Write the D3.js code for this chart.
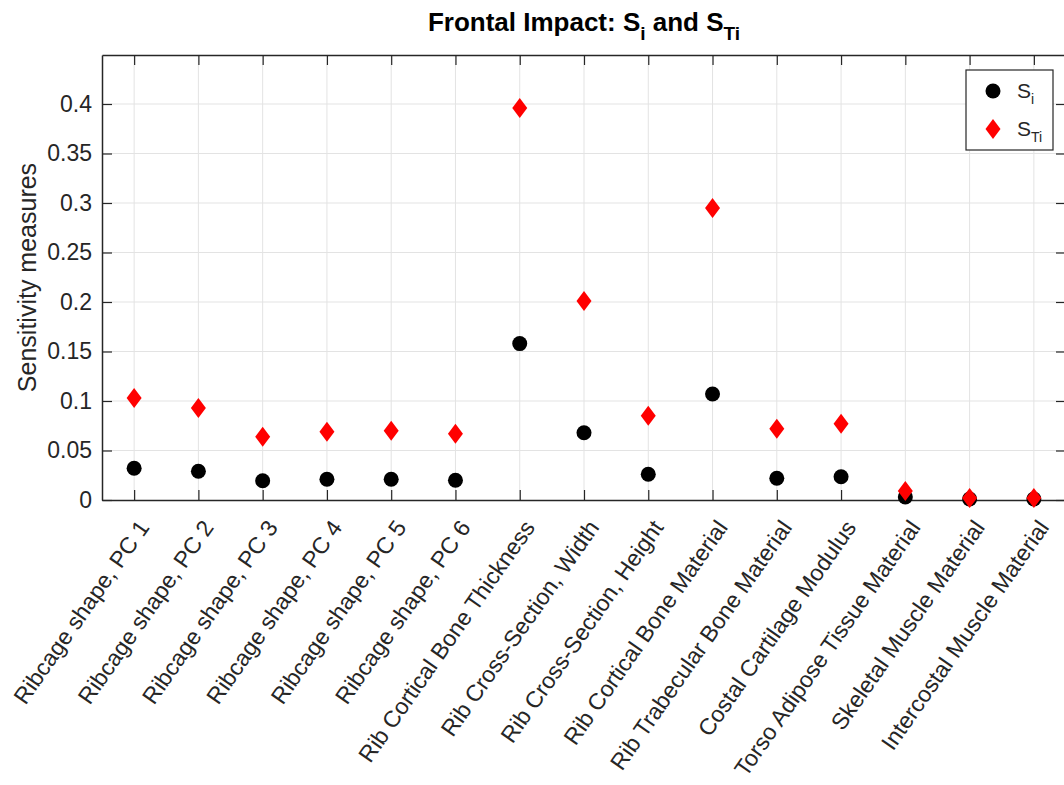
<!DOCTYPE html>
<html>
<head>
<meta charset="utf-8">
<script src="https://cdn.jsdelivr.net/npm/d3@7"></script>
<style>
  body { margin: 0; background: #fff; }
  svg { display: block; font-family: "Liberation Sans", Arial, sans-serif; }
</style>
</head>
<body>
<svg id="chart" width="1064" height="785"></svg>
<script>
const categories = [
  "Ribcage shape, PC 1", "Ribcage shape, PC 2", "Ribcage shape, PC 3",
  "Ribcage shape, PC 4", "Ribcage shape, PC 5", "Ribcage shape, PC 6",
  "Rib Cortical Bone Thickness", "Rib Cross-Section, Width", "Rib Cross-Section, Height",
  "Rib Cortical Bone Material", "Rib Trabecular Bone Material", "Costal Cartilage Modulus",
  "Torso Adipose Tissue Material", "Skeletal Muscle Material", "Intercostal Muscle Material"
];
const firstOrder = [0.032, 0.029, 0.0195, 0.021, 0.021, 0.020, 0.158, 0.068, 0.026, 0.107, 0.022, 0.0235, 0.003, 0.001, 0.001];
const totalOrder = [0.103, 0.093, 0.064, 0.069, 0.070, 0.067, 0.396, 0.201, 0.085, 0.295, 0.072, 0.077, 0.009, 0.002, 0.002];
const yTicks = [0, 0.05, 0.1, 0.15, 0.2, 0.25, 0.3, 0.35, 0.4];
const yTickLabels = ["0", "0.05", "0.1", "0.15", "0.2", "0.25", "0.3", "0.35", "0.4"];

const svg = d3.select("#chart");
const mLeft = 102, mRight = 1066, mTop = 55, mBottom = 500;
const axisColor = "#262626";
const gridColor = "#e3e3e3";

const x = d3.scaleLinear().domain([0.5, categories.length + 0.5]).range([mLeft, mRight]);
const y = d3.scaleLinear().domain([0, 0.4495]).range([mBottom, mTop]);

// grid
const grid = svg.append("g");
grid.selectAll("line.v").data(categories).join("line")
  .attr("x1", (d, i) => x(i + 1)).attr("x2", (d, i) => x(i + 1))
  .attr("y1", mTop).attr("y2", mBottom)
  .attr("stroke", gridColor).attr("stroke-width", 1);
grid.selectAll("line.h").data(yTicks.slice(1)).join("line")
  .attr("x1", mLeft).attr("x2", mRight)
  .attr("y1", d => y(d)).attr("y2", d => y(d))
  .attr("stroke", gridColor).attr("stroke-width", 1);

// axes
const xAxis = d3.axisBottom(x).tickValues(d3.range(1, categories.length + 1))
  .tickFormat((d) => categories[d - 1]).tickSizeInner(-10).tickSizeOuter(0);
const gx = svg.append("g").attr("transform", `translate(0,${mBottom})`).call(xAxis);
gx.select(".domain").attr("stroke", axisColor).attr("stroke-width", 1.5);
gx.selectAll(".tick line").attr("stroke", axisColor).attr("stroke-width", 1.2);
gx.selectAll(".tick text")
  .attr("fill", axisColor)
  .style("font-size", "23px")
  .attr("text-anchor", "end")
  .attr("x", 0).attr("y", 0).attr("dy", "0.35em")
  .attr("transform", "translate(9,23) rotate(-55)");

const xTop = d3.axisTop(x).tickValues(d3.range(1, categories.length + 1))
  .tickFormat("").tickSizeInner(-10).tickSizeOuter(0);
const gxt = svg.append("g").attr("transform", `translate(0,${mTop})`).call(xTop);
gxt.select(".domain").attr("stroke", axisColor).attr("stroke-width", 1.5);
gxt.selectAll(".tick line").attr("stroke", axisColor).attr("stroke-width", 1.2);

const yAxis = d3.axisLeft(y).tickValues(yTicks).tickFormat((d, i) => yTickLabels[i])
  .tickSizeInner(-10).tickSizeOuter(0).tickPadding(10);
const gy = svg.append("g").attr("transform", `translate(${mLeft},0)`).call(yAxis);
gy.select(".domain").attr("stroke", axisColor).attr("stroke-width", 1.5);
gy.selectAll(".tick line").attr("stroke", axisColor).attr("stroke-width", 1.2);
gy.selectAll(".tick text").attr("fill", axisColor).style("font-size", "23px");

const yRight = d3.axisRight(y).tickValues(yTicks).tickFormat("").tickSizeInner(-10).tickSizeOuter(0);
const gyr = svg.append("g").attr("transform", `translate(${mRight},0)`).call(yRight);
gyr.select(".domain").attr("stroke", axisColor).attr("stroke-width", 1.5);
gyr.selectAll(".tick line").attr("stroke", axisColor).attr("stroke-width", 1.2);

// y label
svg.append("text")
  .attr("transform", `translate(27,${(mTop + mBottom) / 2}) rotate(-90)`)
  .attr("text-anchor", "middle").attr("dy", "0.35em")
  .attr("fill", axisColor).style("font-size", "25px")
  .text("Sensitivity measures");

// title
const title = svg.append("text")
  .attr("x", (mLeft + mRight) / 2).attr("y", 31)
  .attr("text-anchor", "middle").attr("fill", "#000")
  .style("font-size", "26px").style("font-weight", "bold");
title.append("tspan").text("Frontal Impact: S");
title.append("tspan").attr("dy", 9).style("font-size", "19px").text("i");
title.append("tspan").attr("dy", -9).text(" and S");
title.append("tspan").attr("dy", 9).style("font-size", "19px").text("Ti");

// markers
const diamond = (cx, cy, w, h) => `M${cx},${cy - h / 2}L${cx + w / 2},${cy}L${cx},${cy + h / 2}L${cx - w / 2},${cy}Z`;

svg.append("g").selectAll("circle").data(firstOrder).join("circle")
  .attr("cx", (d, i) => x(i + 1)).attr("cy", d => y(d)).attr("r", 7.5)
  .attr("fill", "#000");

svg.append("g").selectAll("path").data(totalOrder).join("path")
  .attr("d", (d, i) => diamond(x(i + 1), y(d), 15, 20))
  .attr("fill", "#ff0000");

// legend
const lg = svg.append("g");
lg.append("rect").attr("x", 966).attr("y", 70).attr("width", 87).attr("height", 80)
  .attr("fill", "#fff").attr("stroke", axisColor).attr("stroke-width", 1.2);
lg.append("circle").attr("cx", 993).attr("cy", 91).attr("r", 7.5).attr("fill", "#000");
lg.append("path").attr("d", diamond(993, 129, 15, 20)).attr("fill", "#ff0000");
const l1 = lg.append("text").attr("x", 1017).attr("y", 98).attr("fill", axisColor).style("font-size", "21px");
l1.append("tspan").text("S");
l1.append("tspan").attr("dy", 6).style("font-size", "14px").text("i");
const l2 = lg.append("text").attr("x", 1017).attr("y", 136).attr("fill", axisColor).style("font-size", "21px");
l2.append("tspan").text("S");
l2.append("tspan").attr("dy", 6).style("font-size", "14px").text("Ti");
</script>
</body>
</html>
